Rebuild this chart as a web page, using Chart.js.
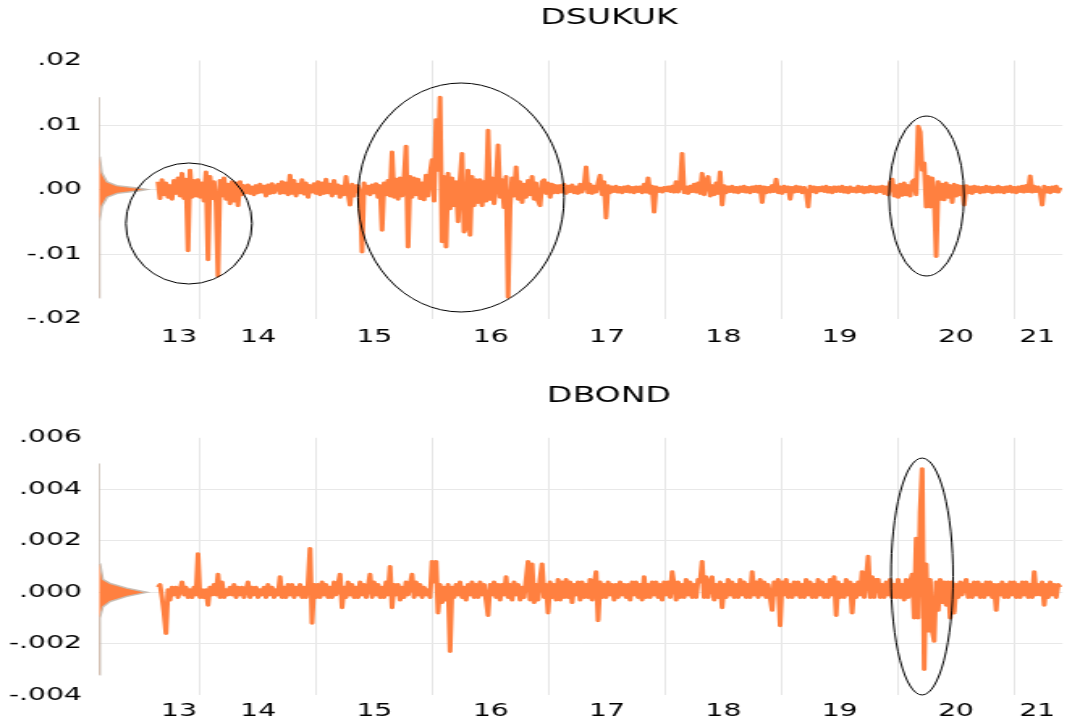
<!DOCTYPE html>
<html lang="en">
<head>
<meta charset="utf-8">
<title>DSUKUK / DBOND</title>
<style>
  html, body { margin: 0; padding: 0; background: #fff; overflow: hidden; }
  /* the original export is a narrow graph stretched sideways, so draw narrow and stretch */
  .panel { position: absolute; left: 0; width: 660px; height: 361px; transform: scaleX(1.6167); transform-origin: 0 0; }
  #topPanel { top: 0; }
  #bottomPanel { top: 361px; }
</style>
</head>
<body>
<div class="panel" id="topPanel"><canvas id="sukukChart"></canvas></div>
<div class="panel" id="bottomPanel"><canvas id="bondChart"></canvas></div>

<script src="https://cdn.jsdelivr.net/npm/chart.js"></script>
<script>
// ---- data ----
const startYear = 2013.639;      // first observation
const stepYear = 0.0172;         // spacing between observations (years)
const gridYears = [2014, 2015, 2016, 2017, 2018, 2019, 2020, 2021];
const labelYears = [2013, 2014, 2015, 2016, 2017, 2018, 2019, 2020, 2021];
const yearLabels = ['13', '14', '15', '16', '17', '18', '19', '20', '21'];

const dsukuk = [
  .0012,-.0014,.0015,-.0008,.0010,-.0012,.0006,-.0015,.0014,-.0006,.0018,-.0010,.0025,-.0014,.0016,-.0095,.0030,-.0012,.0014,-.0010,
  .0015,-.0012,.0010,-.0018,.0027,-.0109,.0020,-.0014,.0012,-.0020,-.0134,.0014,-.0010,.0018,-.0015,.0008,-.0022,.0012,-.0018,.0010,
  -.0025,.0012,-.0008,.0006,-.0005,.0007,-.0006,.0004,-.0008,.0006,-.0005,.0008,-.0004,.0005,-.0010,.0007,-.0006,.0009,-.0005,.0004,
  .0008,-.0006,.0012,-.0005,.0010,-.0008,.0022,-.0006,.0014,-.0010,.0008,-.0005,.0015,-.0007,.0010,-.0012,.0006,-.0004,.0009,-.0006,
  .0012,-.0008,.0010,-.0006,.0016,-.0005,.0008,-.0010,.0014,-.0006,.0007,-.0012,.0005,-.0008,.0020,-.0006,-.0024,.0008,-.0010,.0006,
  .0006,-.0008,-.0097,.0010,-.0006,.0005,-.0008,.0007,-.0005,.0009,-.0012,.0006,-.0063,.0010,-.0008,.0014,-.0010,.0058,-.0012,.0016,
  -.0015,.0018,-.0010,.0015,.0067,-.0089,.0020,-.0012,.0018,-.0008,.0016,-.0014,.0010,-.0016,.0022,-.0010,.0025,.0046,-.0018,.0108,
  .0030,.0143,-.0081,.0020,-.0089,.0025,-.0030,.0018,-.0025,.0012,-.0050,.0015,.0056,-.0066,-.0058,.0030,-.0071,.0020,-.0025,.0015,
  -.0020,.0015,-.0025,.0012,-.0018,.0092,-.0015,.0018,-.0022,.0010,.0069,-.0012,.0015,-.0028,.0020,-.0167,-.0025,.0018,-.0010,.0035,
  -.0015,.0012,-.0020,.0008,-.0012,.0014,-.0008,.0020,-.0015,.0010,-.0018,-.0025,.0012,.0015,-.0006,.0010,-.0012,.0008,-.0005,.0006,
  -.0005,.0006,-.0004,.0008,-.0006,.0005,-.0003,.0007,-.0005,.0004,-.0006,.0008,-.0004,.0006,.0035,-.0005,.0008,-.0006,.0005,-.0004,
  .0010,.0022,-.0008,.0012,-.0044,.0006,-.0005,.0004,-.0003,.0005,-.0004,.0003,-.0005,.0004,-.0003,.0005,-.0004,.0003,-.0005,.0004,
  -.0003,.0004,-.0005,.0008,-.0004,.0018,-.0006,.0005,-.0035,.0004,-.0003,.0002,-.0004,.0003,-.0002,.0004,-.0003,.0005,-.0004,.0012,
  -.0004,.0006,.0056,-.0005,.0004,-.0006,.0005,-.0003,.0008,-.0004,.0010,-.0006,.0025,-.0008,.0012,.0020,-.0010,.0006,-.0008,.0010,
  -.0006,.0027,-.0024,.0006,-.0005,.0004,-.0003,.0005,-.0004,.0003,-.0005,.0004,-.0003,.0005,-.0004,.0003,-.0005,.0004,-.0003,.0005,
  -.0004,.0005,-.0020,.0004,-.0005,.0003,-.0004,.0006,-.0003,.0016,-.0005,.0004,-.0006,.0005,-.0003,.0004,-.0015,.0003,-.0004,.0005,
  -.0003,.0004,-.0005,.0003,-.0004,-.0027,.0005,-.0003,.0004,-.0005,.0003,-.0002,.0004,-.0003,.0005,-.0004,.0003,-.0005,.0004,-.0003,
  .0004,-.0003,.0005,-.0004,.0003,-.0005,.0004,-.0003,.0002,-.0004,.0005,-.0003,.0004,-.0005,.0003,-.0004,.0005,-.0003,.0004,-.0005,
  .0004,-.0003,.0005,-.0006,.0004,-.0008,.0010,.0016,-.0010,.0006,-.0012,.0008,-.0009,.0010,-.0008,.0006,-.0010,.0012,.0015,-.0008,
  .0098,.0089,.0030,.0041,-.0027,.0020,-.0027,.0018,-.0010,-.0104,.0012,-.0015,.0008,-.0016,.0010,-.0012,.0006,-.0020,.0008,-.0010,
  .0006,-.0008,.0005,-.0024,.0006,-.0005,.0004,-.0006,.0005,-.0003,.0004,-.0005,.0003,-.0004,.0005,-.0003,.0004,-.0005,.0003,-.0004,
  .0005,-.0004,.0003,-.0005,.0004,-.0003,.0005,-.0004,.0003,-.0005,.0004,-.0003,.0005,-.0004,.0006,-.0003,.0021,-.0004,.0005,-.0003,
  .0004,-.0005,-.0024,.0005,-.0004,.0003,-.0005,.0004,-.0003,.0005,-.0004,.0003
];

const dbond = [
  .0002,.0003,-.0002,-.0008,-.0016,.0001,-.0003,.0002,-.0001,.0002,-.0002,.0001,.0004,-.0001,.0002,-.0002,.0001,-.0002,.0002,-.0001,
  .0015,-.0002,.0001,-.0002,.0001,-.0005,.0002,-.0001,.0003,-.0001,.0007,-.0002,.0004,-.0002,.0001,-.0001,.0002,-.0001,.0003,-.0002,
  .0002,-.0001,.0002,-.0002,.0001,.0004,-.0002,.0002,-.0001,.0002,-.0002,.0001,-.0001,.0002,-.0002,.0003,-.0001,.0002,-.0002,.0001,
  -.0001,.0006,-.0002,.0002,-.0002,.0003,-.0001,.0003,-.0002,.0002,-.0001,.0003,-.0002,.0002,-.0002,.0003,.0017,-.0012,.0003,-.0002,
  .0003,-.0002,.0004,-.0001,.0003,-.0002,.0002,-.0002,.0004,-.0001,.0003,.0007,-.0006,.0002,-.0002,.0004,-.0001,.0003,-.0002,.0002,
  -.0002,.0004,-.0001,.0003,-.0002,.0002,.0007,-.0002,.0004,-.0001,.0003,-.0002,.0002,-.0002,.0004,-.0001,.0010,-.0006,.0003,-.0001,
  .0003,-.0003,.0002,-.0002,.0004,-.0001,.0003,.0007,-.0002,.0004,-.0001,.0003,-.0002,.0002,-.0001,.0001,-.0002,.0012,.0004,.0012,
  -.0008,.0003,-.0004,.0002,-.0003,.0003,-.0023,.0002,-.0002,.0003,-.0001,.0004,-.0002,.0002,-.0003,.0003,-.0001,.0004,-.0002,.0003,
  -.0002,.0004,-.0001,.0003,-.0003,-.0009,.0003,-.0001,.0004,-.0002,.0003,-.0003,.0003,-.0001,.0006,-.0002,.0003,-.0003,.0004,-.0001,
  .0003,-.0003,.0002,-.0002,.0005,.0012,-.0003,.0011,-.0004,.0003,-.0003,.0005,.0011,-.0002,.0003,-.0008,.0004,-.0002,.0003,-.0003,
  .0005,-.0003,.0004,-.0002,.0005,-.0002,.0004,-.0004,.0003,-.0001,.0004,-.0003,.0004,-.0002,.0003,-.0002,.0005,-.0003,.0003,.0008,
  -.0011,.0004,-.0002,.0003,-.0002,.0004,-.0001,.0003,-.0003,.0003,-.0002,.0004,-.0001,.0003,-.0002,.0003,-.0003,.0004,-.0001,.0004,
  -.0002,.0003,-.0003,.0006,-.0002,.0003,-.0002,.0004,-.0001,.0004,-.0002,.0003,-.0003,.0004,-.0001,.0004,-.0002,.0008,.0003,-.0003,
  .0004,-.0002,.0003,-.0002,.0005,-.0001,.0004,-.0002,.0003,-.0002,.0005,.0004,.0012,-.0002,.0006,-.0002,.0004,.0006,-.0003,.0003,
  -.0002,.0004,-.0006,.0003,-.0002,.0005,-.0001,.0004,-.0002,.0003,-.0002,.0005,-.0001,.0004,-.0002,.0003,-.0002,.0008,-.0001,.0004,
  -.0002,.0005,-.0001,.0004,-.0002,.0003,-.0002,-.0007,.0004,-.0001,.0005,-.0013,.0004,-.0001,.0005,-.0002,.0003,-.0002,.0004,-.0001,
  .0004,-.0002,.0003,-.0002,.0005,-.0001,.0004,-.0002,.0003,-.0002,.0005,-.0001,.0004,-.0002,.0003,-.0002,.0005,-.0001,.0006,-.0009,
  .0004,-.0002,.0003,-.0002,.0005,-.0001,.0004,-.0008,.0003,-.0002,.0004,-.0001,.0008,-.0002,.0005,.0014,-.0002,.0006,-.0002,.0005,
  .0005,-.0002,.0003,-.0002,.0004,-.0001,.0005,-.0002,.0003,-.0002,.0005,-.0002,.0003,-.0003,.0005,-.0002,.0004,.0007,-.0010,.0021,
  -.0010,.0031,.0048,-.0030,.0011,-.0015,.0005,-.0015,-.0019,.0004,-.0007,.0005,-.0004,.0004,-.0005,.0004,-.0010,.0004,-.0008,.0003,
  -.0002,.0004,-.0001,.0003,.0005,-.0002,.0003,-.0002,.0004,-.0001,.0004,-.0002,.0003,-.0002,.0004,-.0001,.0004,-.0002,.0003,-.0007,
  .0003,-.0001,.0004,-.0002,.0003,-.0002,.0004,-.0001,.0004,-.0002,.0003,-.0002,.0004,-.0001,.0004,-.0002,.0003,-.0002,.0008,-.0001,
  .0003,-.0001,.0004,-.0005,.0003,-.0002,.0004,-.0001,.0003,-.0002,.0003,.0002
];

// kernel density drawn at the left edge: [value, relative density]
const sukukDensity = [
  [-.0168, 0], [-.0100, .004], [-.0050, .015], [-.0026, .06], [-.0012, .17], [-.0006, .38], [-.0002, .85],
  [0, 1], [.0002, .85], [.0006, .37], [.0012, .165], [.0026, .06], [.0050, .015], [.0100, .004], [.0143, 0]
];
const bondDensity = [
  [-.0032, 0], [-.0015, .008], [-.0010, .025], [-.00056, .083], [-.00036, .23], [-.00016, .58],
  [0, 1], [.00016, .58], [.00035, .23], [.0005, .083], [.0011, .022], [.0020, .006], [.0050, 0]
];

// hand-drawn rings round the volatile spells: [centre year, centre value, half width (years), half height]
const sukukRings = [
  [2013.905, -.00527, .542, .00938],
  [2016.244, -.00124, .886, .01775],
  [2020.247, -.00101, .322, .0124]
];
const bondRings = [
  [2020.208, .000613, .267, .0046]
];

// ---- drawing ----
Chart.defaults.font.family = 'DejaVu Sans';
Chart.defaults.color = '#000';

const xMin = 2013.132;
const xMax = 2021.416;

function panelExtras(rings, midYear) {
  return {
    id: 'panelExtras',
    afterLayout(chart) {
      // title sits over the middle of the sample, not the canvas
      const t = chart.titleBlock;
      const c = chart.scales.x.getPixelForValue(midYear);
      t.left = c - chart.width;
      t.right = c + chart.width;
    },
    afterDatasetsDraw(chart) {
      const xs = chart.scales.x, ys = chart.scales.y, ctx = chart.ctx;
      ctx.save();
      ctx.strokeStyle = '#000';
      ctx.lineWidth = 1;
      rings.forEach(r => {
        const px = xs.getPixelForValue(r[0]);
        const py = ys.getPixelForValue(r[1]);
        const w = Math.abs(xs.getPixelForValue(r[0] + r[2]) - px);
        const h = Math.abs(ys.getPixelForValue(r[1] + r[3]) - py);
        ctx.beginPath();
        ctx.ellipse(px, py, w, h, 0, 0, Math.PI * 2);
        ctx.stroke();
      });
      ctx.restore();
    }
  };
}

function drawPanel(canvasId, cfg) {
  const n = cfg.values.length;
  const dataEnd = startYear + (n - 1) * stepYear;
  const points = cfg.values.map((v, i) => ({ x: startYear + i * stepYear, y: v }));
  const densityPts = cfg.density.map(p => ({ x: p[1], y: p[0] }));
  const labelAt = labelYears.map(yr => (Math.max(yr, startYear) + Math.min(yr + 1, dataEnd)) / 2);
  const tickFont = { family: 'DejaVu Sans', size: 17.5 };

  return new Chart(document.getElementById(canvasId), {
    type: 'line',
    data: {
      datasets: [
        {
          data: points,
          xAxisID: 'x',
          yAxisID: 'y',
          borderColor: '#ff8040',
          borderWidth: 3,
          borderJoinStyle: 'round',
          pointRadius: 0,
          fill: false,
          tension: 0
        },
        {
          data: densityPts,
          xAxisID: 'xd',
          yAxisID: 'y',
          borderColor: '#c8beb5',
          borderWidth: 1.4,
          backgroundColor: '#ff8040',
          fill: 'shape',
          pointRadius: 0,
          tension: 0
        }
      ]
    },
    options: {
      responsive: true,
      maintainAspectRatio: false,
      animation: false,
      layout: { padding: { left: 0, right: 2.8, top: 0, bottom: 0 } },
      plugins: {
        legend: { display: false },
        tooltip: { enabled: false },
        title: {
          display: true,
          text: cfg.title,
          color: '#000',
          font: { family: 'DejaVu Sans', size: 20.5, weight: 'normal' },
          padding: { top: cfg.titleTop, bottom: cfg.titleBottom }
        }
      },
      scales: {
        x: {
          type: 'linear', position: 'bottom', min: xMin, max: xMax,
          afterBuildTicks: s => { s.ticks = gridYears.map(v => ({ value: v })); },
          ticks: { display: false },
          grid: { color: '#e6e6e6', lineWidth: 1, drawTicks: false },
          border: { display: false },
          afterFit: s => { s.height = 0; s.paddingLeft = 0; s.paddingRight = 0; }
        },
        xl: {
          type: 'linear', position: 'bottom', min: xMin, max: xMax,
          afterBuildTicks: s => { s.ticks = labelAt.map(v => ({ value: v })); },
          ticks: {
            autoSkip: false, maxRotation: 0, minRotation: 0,
            padding: cfg.labelPad, color: '#000', font: tickFont,
            callback: (v, i) => yearLabels[i]
          },
          grid: { display: false },
          border: { display: false },
          afterFit: s => { s.height = cfg.labelHeight; s.paddingLeft = 0; s.paddingRight = 0; }
        },
        xd: { type: 'linear', min: 0, max: 20.07, display: false },
        y: {
          min: cfg.yMin, max: cfg.yMax,
          ticks: {
            stepSize: cfg.yStep, padding: 10.5, color: '#000', font: tickFont,
            callback: v => {
              const s = (Math.abs(v) < 1e-12 ? 0 : v).toFixed(cfg.digits);
              return s.replace('0.', '.');
            }
          },
          grid: {
            drawTicks: false,
            color: c => (c.tick.value <= cfg.yMin + 1e-9 || c.tick.value >= cfg.yMax - 1e-9) ? 'rgba(0,0,0,0)' : '#e8e8e8'
          },
          border: { display: false },
          afterFit: s => { s.width = 61.24; s.paddingTop = 0; s.paddingBottom = 0; }
        }
      }
    },
    plugins: [panelExtras(cfg.rings, (startYear + dataEnd) / 2)]
  });
}

drawPanel('sukukChart', {
  title: 'DSUKUK', values: dsukuk, density: sukukDensity, rings: sukukRings,
  yMin: -0.02, yMax: 0.02, yStep: 0.01, digits: 2,
  titleTop: 6.5, titleBottom: 29.4, labelHeight: 42.5, labelPad: 0.5
});

drawPanel('bondChart', {
  title: 'DBOND', values: dbond, density: bondDensity, rings: bondRings,
  yMin: -0.004, yMax: 0.006, yStep: 0.002, digits: 3,
  titleTop: 23.2, titleBottom: 29, labelHeight: 26.7, labelPad: -2
});
</script>
</body>
</html>
